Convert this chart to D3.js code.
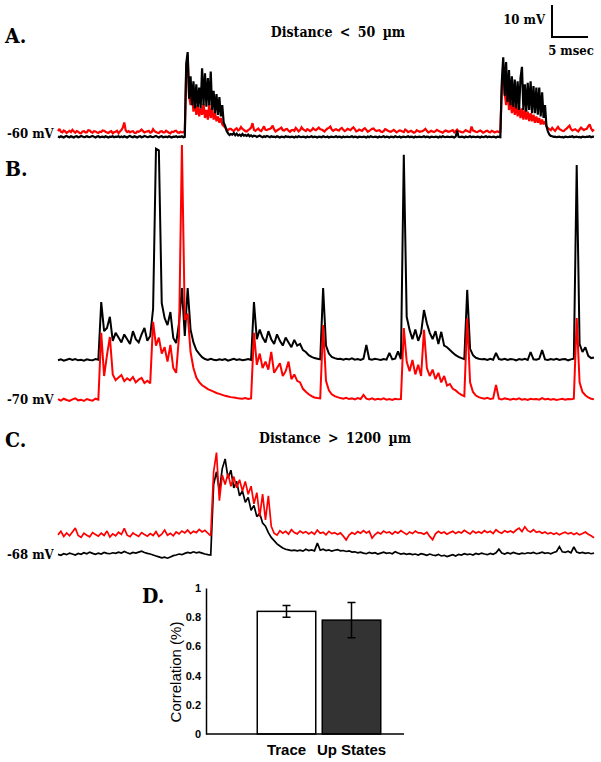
<!DOCTYPE html>
<html><head><meta charset="utf-8">
<script src="https://cdn.jsdelivr.net/npm/d3@7"></script>
<style>
body{margin:0;background:#fff;}
svg{display:block;}
.lbl{font-family:"DejaVu Serif Condensed","DejaVu Serif",serif;font-weight:bold;font-stretch:condensed;fill:#000;}
</style></head><body>
<svg id="chart" width="601" height="762"></svg>
<script>
// sampling intervals of the traces (ms)
const DT_A = 0.2;
const DT_BC = 0.4;
// Panel A: membrane potential, mV relative to -60 mV
const aRed = [
0.9,1.6,0.7,0.5,1.1,0.8,0.3,0.7,1.0,0.6,
1.3,0.8,0.4,0.9,0.7,0.3,0.2,0.8,0.9,0.5,
0.5,1.2,1.1,0.6,0.4,0.9,0.8,0.5,0.3,0.7,
0.6,1.1,1.0,0.7,0.5,0.3,0.7,0.9,0.2,0.6,
0.7,1.0,0.2,0.8,1.2,2.0,3.6,1.1,0.6,0.9,
0.5,0.8,0.9,0.4,0.3,0.8,0.7,1.0,1.4,0.9,
0.5,0.7,0.8,1.0,0.4,0.6,1.5,0.9,0.6,0.4,
0.3,0.8,0.9,0.5,0.5,1.0,0.7,0.4,0.2,0.7,
0.6,0.9,1.0,0.5,0.4,0.7,0.5,0.6,
0.8,20,24.5,12,9,13,7,10,6,9,
5.5,8,6,9.5,5,7.5,4.5,9.5,5,8,
4.5,6.5,4,5.5,3.5,5,3,2.5,2,1.5,
1.2,1.6,1.6,
1.2,0.9,1.5,1.8,1.1,1.4,2.2,1.6,1.3,0.9,
0.8,1.2,1.5,2.0,3.4,1.3,1.0,1.4,1.7,1.1,
0.9,1.6,2.4,1.3,1.2,1.5,1.6,1.9,2.6,1.4,
0.8,1.1,1.4,1.7,2.0,1.2,1.1,1.5,1.6,1.0,
0.7,1.2,1.3,1.0,1.9,1.4,0.8,1.2,2.1,1.5,
1.2,0.9,1.5,1.3,0.9,1.2,1.8,1.4,1.2,1.6,
2.0,1.5,1.4,1.1,0.8,1.3,1.7,1.9,2.3,1.4,
1.0,1.3,1.5,1.2,1.1,1.6,1.9,1.3,0.9,1.2,
1.6,1.4,1.2,1.7,2.1,1.5,0.8,1.0,1.4,1.2,
1.0,1.5,1.8,1.3,0.7,1.0,1.3,1.6,1.7,1.2,
0.9,1.1,1.2,0.8,0.6,0.9,1.5,1.3,1.0,0.8,
0.7,1.0,1.3,0.9,0.5,0.8,1.1,1.0,0.8,0.6,
1.4,1.1,0.6,0.8,1.0,0.7,0.4,0.6,1.2,0.9,
0.7,0.8,0.9,1.2,1.6,1.0,0.5,0.7,1.0,0.8,
0.6,0.9,1.3,1.0,0.8,0.6,0.4,0.8,1.1,0.9,
0.7,0.8,1.0,1.2,0.5,0.9,1.4,0.9,0.8,0.6,
0.5,0.8,1.2,0.9,0.7,0.6,2.3,1.1,0.9,0.7,
0.6,0.9,1.1,0.8,0.4,0.6,0.9,1.0,0.6,0.5,
1.0,0.8,0.5,0.7,0.8,0.6,
0.8,14,22,13,9,15,7.5,11,6.5,10,
6,9,5.5,8.5,5,8,4.5,7.5,4.5,7,
4,6.5,4,6,3.5,5.5,3.5,5,3,4.5,
3,4,2.5,1.8,1.5,1.2,
1.9,1.4,1.0,1.6,2.2,1.5,1.3,1.0,0.9,1.4,
1.7,2.2,2.6,1.6,1.1,1.3,1.5,1.1,0.8,1.4,
2.0,1.6,1.2,1.5,1.6,2.4,3.0,1.7,1.0,1.4];
const aBlack = [
-0.8,-1.0,-0.7,-0.9,-1.1,-0.8,-0.6,-0.9,-1.0,-0.7,
-0.9,-1.1,-0.8,-0.7,-1.0,-0.9,-0.6,-0.8,-1.0,-0.9,
-0.7,-0.9,-1.0,-0.8,-0.6,-0.9,-1.1,-0.8,-0.7,-1.0,
-0.9,-0.8,-1.0,-0.7,-0.9,-1.1,-0.8,-0.9,-0.7,-1.0,
-0.8,-0.9,-0.7,-1.0,-0.8,-1.0,-0.7,-0.9,-1.1,-0.8,
-0.6,-0.9,-1.0,-0.7,-0.9,-1.1,-0.8,-0.7,-1.0,-0.9,
-0.6,-0.8,-1.0,-0.9,-0.7,-0.9,-1.0,-0.8,-0.6,-0.9,
-1.1,-0.8,-0.7,-1.0,-0.9,-0.8,-1.0,-0.7,-0.9,-1.1,
-0.8,-0.9,-0.7,-1.0,-0.8,-0.9,-0.7,-1.0,
-0.9,22,25.6,11,18,9,16.5,8,15.5,8.5,
14.5,8,20.5,9,19,8.5,17.5,9,19.5,7.5,
13.5,6.5,12.5,6,11.5,5.5,9,3.5,2.5,1,
0.2,-0.3,0.0,
-0.2,0.3,-0.4,0.1,-0.5,-0.2,-0.6,0.0,-0.5,-0.3,
-0.6,-0.2,-0.7,-0.4,-0.8,-0.5,-0.6,-0.9,-0.7,-0.5,
-0.8,-1.0,-0.7,-0.9,-0.6,-0.8,-1.0,-0.7,-0.9,-0.8,
-1.0,-0.7,-0.9,-1.1,-0.8,-0.9,-1.0,-0.7,-0.9,-0.8,
-1.0,-0.8,-0.9,-1.1,-0.8,-1.0,-0.7,-0.9,-1.0,-0.8,
-0.9,-1.1,-0.8,-1.0,-0.9,-0.7,-1.0,-0.8,-0.9,-1.1,
-0.8,-0.9,-1.0,-0.7,-0.9,-1.0,-0.8,-1.1,-0.9,-0.8,
-1.0,-0.9,-0.7,-1.0,-0.8,-0.9,-1.1,-0.8,-1.0,-0.9,
-0.8,-1.0,-0.9,-0.7,-1.0,-0.8,-0.9,-1.1,-0.8,-0.9,
-1.0,-0.8,-0.9,-1.1,-0.8,-1.0,-0.7,-0.9,-1.0,-0.8,
-0.9,-1.1,-0.8,-1.0,-0.9,-0.7,-1.0,-0.8,-0.9,-1.1,
-0.8,-0.9,-1.0,-0.7,-0.9,-1.0,-0.8,-1.1,-0.9,-0.8,
-1.0,-0.9,-0.7,-1.0,-0.8,-0.9,-1.1,-0.8,-1.0,-0.9,
-0.8,-1.0,-0.9,-0.7,-1.0,-0.8,-0.9,-1.1,-0.8,-0.9,
-1.0,-0.8,-0.9,-1.1,-0.8,-1.0,-0.7,-0.9,-1.0,-0.8,
-0.9,-1.0,-0.8,-0.9,-1.1,-0.8,1.0,-0.9,-1.0,-0.8,
-0.9,-1.1,-0.8,-1.0,-0.9,-0.7,-1.0,-0.8,-0.9,-1.0,
-0.8,-0.9,-1.1,-0.8,-1.0,-0.9,-0.7,-1.0,-0.8,-0.9,
-1.0,-0.8,-0.9,-1.1,-0.8,-0.9,
-1.0,16,24,12,22.5,10,20,9,18,8.5,
17,8,16.5,7.5,17.5,21,7.5,15.5,7,16,
7.5,16.5,6.5,15,6.5,14.5,6,14.5,5.5,13,
5,9,2.5,0.8,-0.2,-0.6,
-0.7,-0.9,-0.8,-1.0,-0.9,-0.8,-1.0,-0.9,-1.1,-0.8,
-0.9,-1.0,-0.8,-0.9,-0.7,-1.0,-0.9,-0.8,-1.0,-0.9,
-1.1,-0.8,-0.9,-1.0,-0.8,-0.9,-0.7,-1.0,-0.8,-0.9];
// Panel B: mV relative to -70 mV
const bBlack = [
12.4,12.7,12.3,12.6,12.9,12.5,12.8,12.4,12.6,12.3,
12.7,12.5,12.4,12.8,12.6,30.6,21.5,22.5,26,18.5,
21,19.5,18,20.5,19,17.5,21.5,19,18,20.5,
22.5,18.5,20,28.5,78.5,78,30.3,25.6,23.4,27.5,
19.4,17.8,24,35,20,35,22,18,15.6,14.4,
13.4,12.8,12.5,12.9,12.6,12.4,12.7,12.5,12.8,12.3,
12.6,12.9,12.5,12.7,12.4,12.6,12.8,12.5,30.6,19,
22,19.5,18,21.5,19,17.5,20.5,18.5,17,19.5,
18,16.5,18.8,17,17.5,15.6,15,14,13.5,13.1,
12.9,12.7,35,17,14.5,13.5,13.1,12.8,12.9,12.6,
12.9,12.7,13.0,12.6,12.8,12.5,12.9,17.2,12.8,12.6,
12.9,12.7,12.5,12.8,12.6,14.7,12.7,12.9,15.2,12.8,
76.6,26,21.9,19,22,18.5,21,28.1,24,21,
19,21.5,17.5,21.3,17,16.5,15.6,14.8,14,13.5,
13.1,12.8,34.4,16,14,13.2,12.9,12.7,12.8,12.5,
12.9,12.6,14.7,12.8,12.6,12.9,12.5,12.8,12.7,12.4,
12.8,12.6,12.9,12.5,15.0,12.7,12.6,12.9,15.6,12.7,
12.5,12.8,12.6,12.9,12.5,12.7,12.8,12.4,12.7,12.9,
73.4,17.5,15,16.5,13.8,13.1,13.3];
const bRed = [
0.3,-0.2,0.4,0.0,-0.3,0.2,0.5,-0.1,0.1,-0.3,
0.3,0.0,-0.2,0.4,0.1,21,7.5,14,19.7,8,
6.2,7.0,7.8,5.9,6.8,6.1,7.2,5.5,6.4,6.9,
5.3,6.0,5.2,24.4,17,19.5,14.5,16.5,12,17.2,
10,8.5,20,79.7,25,27,15,10,7,5.6,
4.6,4.0,3.4,3.0,2.6,2.2,1.9,1.6,1.3,1.1,
0.9,0.8,0.6,0.5,0.4,0.6,0.3,0.5,21,11,
14.5,10,12,9.5,15,8.5,10,11.5,7.5,9,
12,6.5,8,6,5.5,3.5,2.6,1.8,1.2,0.8,
0.6,0.5,23.4,6,3,1.8,1.2,0.9,0.6,0.4,
0.7,0.3,0.5,0.2,0.6,0.3,1.6,0.4,0.2,0.5,
0.1,0.4,0.2,0.5,0.1,0.3,0.0,0.4,0.2,0.3,
22.5,12,9,12.5,8,11,7.5,21.9,10,7.5,
9.5,6.5,8.5,5.5,7.5,4.5,5,3.5,3,2.2,
1.6,1.2,25.6,5.5,2.5,1.4,0.9,0.6,0.4,0.7,
0.3,0.5,4.7,0.4,0.2,0.5,0.3,0.1,0.4,0.2,
0.5,0.1,0.3,0.0,0.4,0.2,0.3,0.1,0.6,0.2,
0.4,0.1,0.3,0.0,0.2,0.4,0.1,0.3,0.2,0.4,
25.6,5.5,2.5,1.5,0.8,0.4,0.2];
// Panel C: mV relative to -68 mV
const cBlack = [
0.2,-0.1,0.4,0.1,0.6,0.3,0.0,0.5,0.2,0.7,
0.4,0.9,0.5,0.2,0.6,0.3,0.8,0.5,0.4,0.7,
0.5,0.9,0.6,1.1,0.7,0.4,0.8,0.6,0.9,1.2,
0.8,0.5,0.3,0.0,-0.3,-0.6,-0.9,-0.7,-1.0,-0.6,
-0.2,0.0,0.3,0.1,0.5,0.8,0.6,1.0,0.7,0.9,
0.6,0.3,0.1,0.0,22,26,20,27,30,24,
26.5,21,23,18.5,20,16.5,18,14,15.5,12,
13,10,9,7,5.5,4.5,3.5,2.8,2.2,1.8,
1.6,1.4,1.5,1.3,1.5,1.2,1.8,1.4,1.6,1.3,
3.7,1.5,1.8,1.4,1.6,1.2,1.5,1.7,1.3,1.4,
1.1,1.3,0.9,1.0,0.7,0.9,0.6,0.4,0.8,0.5,
0.7,0.3,0.6,0.9,0.5,0.7,0.4,1.0,0.6,0.3,
0.5,0.2,0.4,0.1,0.3,0.0,0.4,0.2,-0.1,0.3,
0.0,-0.2,0.2,-0.3,-0.1,-0.5,-0.2,0.1,-0.3,0.2,
0.0,0.4,0.1,0.3,0.0,0.5,0.2,0.6,0.3,0.1,
0.5,0.2,0.7,1.8,0.6,0.3,0.7,0.4,0.8,0.5,
0.3,0.6,0.4,0.7,0.5,0.8,0.4,0.6,0.9,0.5,
0.7,0.4,0.8,1.1,2.6,1.0,0.8,1.2,0.7,2.5,
0.9,0.6,0.8,0.5,0.7,0.4,0.6];
const cRed = [
6.3,7.4,5.8,6.9,6.0,7.2,8.4,6.1,5.5,6.8,
6.2,5.7,7.0,6.4,5.9,6.8,6.1,7.5,5.6,6.6,
6.0,7.1,6.4,8.3,6.2,5.7,6.9,6.3,5.8,7.0,
6.4,5.9,6.7,6.1,7.3,5.8,6.5,7.8,6.2,6.8,
6.0,7.2,6.6,7.5,6.9,7.8,6.7,7.4,7.0,8.0,
7.2,7.7,6.8,6.0,26,32,17,25,22,25.5,
21.5,24.5,21,23.5,20,23,19,21.5,16,19.5,
12,19,11,18.5,9,6.8,6.2,7.6,6.8,7.4,
6.5,7.9,7.0,6.6,7.5,6.9,7.3,6.6,7.2,6.5,
7.8,6.8,7.1,6.3,7.4,6.7,7.0,6.4,6.9,5.9,
4.7,6.2,7.0,6.5,7.3,6.8,7.6,6.9,7.4,5.3,
6.4,7.1,6.6,7.5,6.9,7.2,6.5,7.3,6.8,7.6,
7.0,6.4,7.2,6.7,7.5,6.9,6.9,6.5,7.1,5.8,
4.8,6.6,7.4,6.8,7.2,6.5,7.0,7.4,6.7,7.3,
6.9,7.7,7.1,6.6,7.5,6.9,7.3,6.8,7.6,7.0,
7.4,6.7,7.9,7.2,6.8,7.6,7.1,7.5,7.0,7.8,
8.4,7.3,8.8,7.6,7.2,7.9,7.1,7.4,6.8,7.2,
6.6,7.0,6.5,6.9,6.3,6.8,7.1,6.6,7.0,6.4,
6.9,6.3,6.7,7.2,6.5,6.0,5.4];
// Panel D
const barCategories = ["Trace", "Up States"];
const barMeans = [0.84, 0.78];
const barErrors = [0.04, 0.12];
const yTicks = [0, 0.2, 0.4, 0.6, 0.8, 1];
const scaleBarValues = {mV: 10, ms: 5};

const svg = d3.select("#chart");
const tMax = (aRed.length - 1) * DT_A;
const x = d3.scaleLinear().domain([0, tMax]).range([58, 594]);
const pxPerMv = 3.2;

const panels = [
  {red: aRed, black: aBlack, dt: DT_A, y0: 134, order: ["red", "black"], sw: 2.2, letter: "A.", ly: 43, vlabel: "-60 mV", vly: 138,
   title: "Distance < 50 \u00b5m", tx: 338, ty: 37},
  {red: bRed, black: bBlack, dt: DT_BC, y0: 400, order: ["black", "red"], sw: 2, letter: "B.", ly: 176, vlabel: "-70 mV", vly: 404},
  {red: cRed, black: cBlack, dt: DT_BC, y0: 555, order: ["black", "red"], sw: 1.7, letter: "C.", ly: 447, vlabel: "-68 mV", vly: 559,
   title: "Distance > 1200 \u00b5m", tx: 335, ty: 443}
];
const colors = {red: "#ff0000", black: "#000000"};

panels.forEach(p => {
  const y = d3.scaleLinear().domain([0, 10]).range([p.y0, p.y0 - 10 * pxPerMv]);
  p.yScale = y;
  const line = d3.line().x((d, i) => x(i * p.dt)).y(d => y(d));
  p.order.forEach(k => {
    svg.append("path").datum(p[k]).attr("d", line)
      .attr("fill", "none").attr("stroke", colors[k]).attr("stroke-width", p.sw)
      .attr("stroke-linejoin", "miter").attr("stroke-miterlimit", 2);
  });
  svg.append("text").attr("class", "lbl").attr("x", 5).attr("y", p.ly).attr("font-size", 21).text(p.letter);
  svg.append("text").attr("class", "lbl").attr("x", 7).attr("y", p.vly).attr("font-size", 13).text(p.vlabel);
  if (p.title) {
    svg.append("text").attr("class", "lbl").attr("x", p.tx).attr("y", p.ty).attr("text-anchor", "middle")
      .attr("font-size", 14).attr("word-spacing", 3).text(p.title);
  }
});

// scale bar (panel A scales)
const yA = panels[0].yScale;
const sbX = 552, sbY = 37;
const sbH = yA(0) - yA(scaleBarValues.mV);
const sbW = x(scaleBarValues.ms) - x(0);
svg.append("path").attr("d", `M${sbX},${sbY - sbH}V${sbY}H${sbX + sbW}`)
  .attr("fill", "none").attr("stroke", "#000").attr("stroke-width", 2);
svg.append("text").attr("class", "lbl").attr("x", 545).attr("y", 24).attr("text-anchor", "end")
  .attr("font-size", 13).text(scaleBarValues.mV + " mV");
svg.append("text").attr("class", "lbl").attr("x", 571).attr("y", 55).attr("text-anchor", "middle")
  .attr("font-size", 13).text(scaleBarValues.ms + " msec");

// Panel D bar chart
const yD = d3.scaleLinear().domain([0, 1]).range([734, 588]);
const xD = d3.scaleBand().domain(barCategories).range([254, 384]).paddingInner(0.1).paddingOuter(0.05);
const gD = svg.append("g");
gD.selectAll("rect.bar").data(barCategories).enter().append("rect")
  .attr("x", d => xD(d)).attr("width", xD.bandwidth())
  .attr("y", (d, i) => yD(barMeans[i])).attr("height", (d, i) => yD(0) - yD(barMeans[i]))
  .attr("fill", (d, i) => i === 0 ? "#ffffff" : "#333333")
  .attr("stroke", "#000").attr("stroke-width", 1.5);
barCategories.forEach((c, i) => {
  const cx = xD(c) + xD.bandwidth() / 2;
  const y1 = yD(barMeans[i] - barErrors[i]), y2 = yD(barMeans[i] + barErrors[i]);
  gD.append("path").attr("d", `M${cx},${y1}V${y2}M${cx - 4},${y1}H${cx + 4}M${cx - 4},${y2}H${cx + 4}`)
    .attr("stroke", "#000").attr("stroke-width", 1.5).attr("fill", "none");
});
const yAxis = gD.append("g").attr("transform", "translate(206,0)")
  .call(d3.axisLeft(yD).tickValues(yTicks).tickSize(0).tickPadding(5)
    .tickFormat(d => (d === 0 || d === 1) ? String(d) : d3.format(".1f")(d)));
yAxis.select(".domain").attr("stroke-width", 1.5);
yAxis.selectAll("text").attr("font-size", 11).attr("fill", "#000")
  .style("font-family", "'Liberation Sans',Arial,sans-serif").style("font-weight", "bold");
gD.append("line").attr("x1", 206).attr("x2", 404).attr("y1", yD(0)).attr("y2", yD(0))
  .attr("stroke", "#000").attr("stroke-width", 1.5);
const xAxis = gD.append("g").attr("transform", `translate(0,${yD(0)})`)
  .call(d3.axisBottom(xD).tickSize(0).tickPadding(10));
xAxis.select(".domain").remove();
xAxis.selectAll("text").attr("font-size", 15).attr("fill", "#000")
  .style("font-family", "'Liberation Sans',Arial,sans-serif").style("font-weight", "bold");
gD.append("text").attr("font-size", 15).attr("fill", "#000")
  .style("font-family", "'Liberation Sans',Arial,sans-serif").style("font-stretch", "condensed")
  .attr("transform", "translate(181,672) rotate(-90)").attr("text-anchor", "middle").text("Correlation (%)");
svg.append("text").attr("class", "lbl").attr("x", 142).attr("y", 603).attr("font-size", 21).text("D.");
</script>
</body></html>
